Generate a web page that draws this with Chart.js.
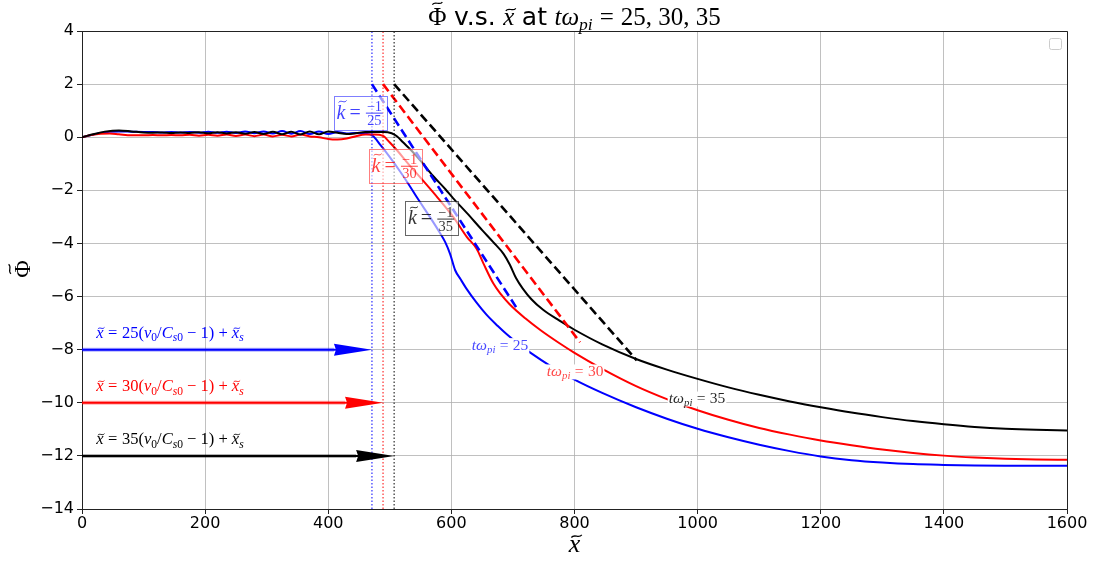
<!DOCTYPE html>
<html lang="en">
<head>
    <meta charset="UTF-8">
    <title>Phi vs x</title>
    <script src="https://cdn.jsdelivr.net/npm/chart.js"></script>
    <style>
        body { margin: 0; background: #fff; }
        #wrap { width: 1096px; height: 563px; }
    </style>
</head>
<body>
    <div id="wrap"><canvas id="phiChart" width="1096" height="563"></canvas></div>

    <script>
        // Potential profiles, [x, phi]
        var phi25 = [[0,0],[15,0.08],[30,0.16],[45,0.21],[60,0.22],[80,0.21],[100,0.2],[115,0.2],[130,0.18],[145,0.2],[160,0.18],[175,0.2],[190,0.17],[205,0.21],[220,0.17],[235,0.21],[250,0.16],[265,0.22],[280,0.15],[295,0.22],[310,0.14],[325,0.23],[340,0.13],[355,0.23],[370,0.12],[385,0.22],[400,0.12],[415,0.2],[430,0.14],[445,0.16],[460,0.13],[471,0.08],
            [485,-0.3],[500,-0.75],[517,-1.3],[530,-1.75],[545,-2.3],[565,-3.0],[580,-3.55],[590,-3.95],[598,-4.4],[606,-5.0],[615,-5.35],[625,-5.72],[640,-6.2],[657,-6.68],[675,-7.1],[690,-7.42],[710,-7.8],[730,-8.14],[760,-8.6],[800,-9.13],[845,-9.63],[900,-10.17],[950,-10.6],[1000,-10.98],[1050,-11.3],[1100,-11.58],[1150,-11.82],[1200,-12.02],[1250,-12.16],[1300,-12.25],[1350,-12.31],[1400,-12.34],[1450,-12.36],[1500,-12.37],[1550,-12.37],[1600,-12.37]];
        var phi30 = [[0,0],[15,0.08],[30,0.13],[45,0.14],[60,0.11],[80,0.07],[100,0.07],[115,0.08],[130,0.07],[145,0.08],[160,0.07],[175,0.09],[190,0.06],[205,0.09],[220,0.06],[235,0.1],[250,0.05],[265,0.1],[280,0.04],[295,0.1],[310,0.03],[325,0.09],[340,0.03],[355,0.1],[370,0.03],[385,0.0],[400,-0.07],[415,-0.09],[430,-0.05],[445,0.04],[460,0.1],[475,0.1],[489,0.05],
            [500,-0.2],[512,-0.5],[530,-1.0],[549,-1.5],[575,-2.2],[603,-3.0],[625,-3.75],[641,-4.2],[652,-4.75],[668,-5.5],[680,-5.9],[695,-6.3],[720,-6.82],[745,-7.27],[775,-7.75],[800,-8.12],[845,-8.72],[900,-9.37],[950,-9.86],[1000,-10.28],[1050,-10.64],[1100,-10.95],[1150,-11.2],[1200,-11.42],[1250,-11.6],[1300,-11.76],[1350,-11.89],[1400,-11.99],[1450,-12.06],[1500,-12.11],[1550,-12.14],[1600,-12.15]];
        var phi35 = [[0,0],[20,0.12],[40,0.22],[60,0.25],[80,0.22],[100,0.18],[115,0.17],[130,0.18],[145,0.16],[160,0.18],[175,0.16],[190,0.19],[205,0.15],[220,0.19],[235,0.14],[250,0.19],[265,0.13],[280,0.2],[295,0.12],[310,0.21],[325,0.11],[340,0.21],[355,0.1],[370,0.22],[385,0.11],[400,0.22],[415,0.17],[430,0.12],[445,0.15],[460,0.2],[475,0.2],[490,0.2],[503,0.15],
            [512,0.03],[521,-0.18],[535,-0.5],[549,-0.86],[570,-1.45],[590,-1.95],[603,-2.3],[625,-2.85],[650,-3.5],[668,-3.95],[685,-4.4],[695,-4.8],[705,-5.3],[716,-5.7],[730,-6.1],[749,-6.5],[775,-6.9],[800,-7.25],[845,-7.8],[900,-8.35],[950,-8.75],[1000,-9.1],[1050,-9.42],[1100,-9.7],[1150,-9.95],[1200,-10.17],[1250,-10.37],[1300,-10.54],[1350,-10.69],[1400,-10.81],[1450,-10.91],[1500,-10.98],[1550,-11.02],[1600,-11.04]];

        var times = [25, 30, 35];
        var colors = ['#0000ff', '#ff0000', '#000000'];
        var shockX = [471, 489, 507];          // x = t(v0/Cs0 - 1) + xs
        var slopeTopY = 2;
        var slopeEndX = [708, 809, 901];
        var slopeEndY = [-6.5, -7.72, -8.4];
        var arrowY = [-8, -10, -12];
        var kLabelPos = [[452, 0.93], [509, -1.07], [568, -3.06]];
        var tLabelPos = [[679, -7.83], [801, -8.82], [999, -9.84]];
        var xTicks = [0, 200, 400, 600, 800, 1000, 1200, 1400, 1600];
        var yTicks = [-14, -12, -10, -8, -6, -4, -2, 0, 2, 4];

        var SERIF = '"Liberation Serif", "DejaVu Serif", serif';

        // --- tiny math text helpers ---
        function fontFor(p, size) {
            var s = (p.f === 'sub' || p.f === 'subr') ? size * 0.7 : size;
            if (p.f === 'sans') return s + 'px "DejaVu Sans"';
            var it = (p.f === 'i' || p.f === 'sub') ? 'italic ' : '';
            return it + s + 'px ' + SERIF;
        }
        function partWidth(ctx, p, size) {
            if (p.sp !== undefined) return p.sp * size;
            if (p.num !== undefined) {
                ctx.font = (size * 0.72) + 'px ' + SERIF;
                return Math.max(ctx.measureText(p.num).width, ctx.measureText(p.den).width) + size * 0.2;
            }
            ctx.font = fontFor(p, size);
            return ctx.measureText(p.t).width;
        }
        function mathWidth(ctx, parts, size) {
            return parts.reduce(function (s, p) { return s + partWidth(ctx, p, size); }, 0);
        }
        function drawTilde(ctx, cx, ty, size) {
            var tw = size * 0.4, h = size * 0.05;
            ctx.lineWidth = Math.max(0.9, size * 0.05);
            ctx.beginPath();
            ctx.moveTo(cx - tw / 2, ty + h);
            ctx.bezierCurveTo(cx - tw / 5, ty - h * 2.2, cx + tw / 5, ty + h * 2.2, cx + tw / 2, ty - h);
            ctx.stroke();
        }
        function drawMath(ctx, parts, x, cy, size, color, align) {
            var w = mathWidth(ctx, parts, size);
            var cx = align === 'center' ? x - w / 2 : (align === 'right' ? x - w : x);
            var base = cy + size * 0.3;
            ctx.fillStyle = color;
            ctx.strokeStyle = color;
            ctx.textBaseline = 'alphabetic';
            parts.forEach(function (p) {
                var pw = partWidth(ctx, p, size);
                if (p.num !== undefined) {
                    var axis = base - size * 0.27;
                    ctx.font = (size * 0.72) + 'px ' + SERIF;
                    ctx.textAlign = 'center';
                    ctx.fillText(p.num, cx + pw / 2, axis - size * 0.1);
                    ctx.fillText(p.den, cx + pw / 2, axis + size * 0.58);
                    ctx.lineWidth = Math.max(0.8, size * 0.05);
                    ctx.beginPath();
                    ctx.moveTo(cx + size * 0.06, axis);
                    ctx.lineTo(cx + pw - size * 0.06, axis);
                    ctx.stroke();
                } else if (p.t !== undefined) {
                    ctx.font = fontFor(p, size);
                    ctx.textAlign = 'left';
                    var dy = (p.f === 'sub' || p.f === 'subr') ? size * 0.2 : 0;
                    ctx.fillText(p.t, cx, base + dy);
                    if (p.tilde) {
                        var shift = p.f === 'i' ? size * 0.08 : 0;
                        drawTilde(ctx, cx + pw / 2 + shift, base - size * (p.tall ? 0.85 : 0.6), size);
                    }
                }
                cx += pw;
            });
            ctx.textAlign = 'left';
            return w;
        }
        function eq(s) { s = s || 0.28; return [{ sp: s }, { t: '=', f: 'r' }, { sp: s }]; }

        var annotations = {
            id: 'annotations',
            afterDatasetsDraw: function (chart) {
                var ctx = chart.ctx, a = chart.chartArea;
                var sx = chart.scales.x, sy = chart.scales.y;
                ctx.save();

                // arrows from x=0 to the shock positions
                arrowY.forEach(function (ay, i) {
                    var py = sy.getPixelForValue(ay);
                    var x0 = sx.getPixelForValue(0), x1 = sx.getPixelForValue(shockX[i]);
                    var head = 38, hw = 6;
                    ctx.strokeStyle = colors[i];
                    ctx.globalAlpha = 0.3;
                    ctx.lineWidth = 4;
                    ctx.beginPath(); ctx.moveTo(x0, py); ctx.lineTo(x1 - head, py); ctx.stroke();
                    ctx.globalAlpha = 1;
                    ctx.lineWidth = 2;
                    ctx.beginPath(); ctx.moveTo(x0, py); ctx.lineTo(x1 - head + 2, py); ctx.stroke();
                    ctx.fillStyle = colors[i];
                    ctx.beginPath();
                    ctx.moveTo(x1, py);
                    ctx.lineTo(x1 - head, py - hw);
                    ctx.lineTo(x1 - head + 2, py);
                    ctx.lineTo(x1 - head, py + hw);
                    ctx.closePath();
                    ctx.fill();

                    var lab = [{ t: 'x', f: 'i', tilde: true }].concat(eq(), [
                        { t: String(times[i]) + '(', f: 'r' }, { t: 'v', f: 'i' }, { t: '0', f: 'subr' },
                        { t: '/', f: 'r' }, { t: 'C', f: 'i' }, { t: 's', f: 'sub' }, { t: '0', f: 'subr' },
                        { sp: 0.25 }, { t: '\u2212', f: 'r' }, { sp: 0.25 }, { t: '1)', f: 'r' },
                        { sp: 0.25 }, { t: '+', f: 'r' }, { sp: 0.25 }, { t: 'x', f: 'i', tilde: true }, { t: 's', f: 'sub' }]);
                    drawMath(ctx, lab, sx.getPixelForValue(23), sy.getPixelForValue(ay + 0.62), 16.5, colors[i], 'left');
                });

                // k = -1/t boxes
                var boxText = ['rgba(0,0,255,0.75)', 'rgba(255,0,0,0.75)', 'rgba(0,0,0,0.8)'];
                var boxEdge = ['rgba(0,0,255,0.5)', 'rgba(255,0,0,0.5)', 'rgba(0,0,0,0.6)'];
                kLabelPos.forEach(function (pos, i) {
                    var parts = [{ t: 'k', f: 'i', tilde: true, tall: true }].concat(eq(0.2), [{ num: '\u22121', den: String(times[i]) }]);
                    var size = 20;
                    var w = mathWidth(ctx, parts, size);
                    var cx = sx.getPixelForValue(pos[0]), cy = sy.getPixelForValue(pos[1]);
                    var bw = w + 6, bh = 34;
                    ctx.fillStyle = 'rgba(255,255,255,0.6)';
                    ctx.fillRect(cx - bw / 2, cy - bh / 2, bw, bh);
                    ctx.strokeStyle = boxEdge[i];
                    ctx.lineWidth = 1;
                    ctx.strokeRect(Math.round(cx - bw / 2) + 0.5, Math.round(cy - bh / 2) + 0.5, Math.round(bw), bh);
                    drawMath(ctx, parts, cx, cy, size, boxText[i], 'center');
                });

                // inline curve labels
                var tCol = ['rgba(40,40,255,0.85)', 'rgba(255,40,40,0.85)', 'rgba(0,0,0,0.85)'];
                tLabelPos.forEach(function (pos, i) {
                    var parts = [{ t: 't', f: 'i' }, { t: '\u03c9', f: 'i' }, { t: 'pi', f: 'sub' }].concat(eq(), [{ t: String(times[i]), f: 'r' }]);
                    var size = 15.5;
                    var w = mathWidth(ctx, parts, size);
                    var cx = sx.getPixelForValue(pos[0]), cy = sy.getPixelForValue(pos[1]);
                    ctx.fillStyle = '#fff';
                    ctx.fillRect(cx - w / 2 - 1, cy - 7, w + 2, 15);
                    drawMath(ctx, parts, cx, cy, size, tCol[i], 'center');
                });

                // top and right spines
                ctx.strokeStyle = '#222';
                ctx.lineWidth = 1;
                ctx.beginPath();
                ctx.moveTo(Math.round(a.left) + 0.5, Math.round(a.top) + 0.5);
                ctx.lineTo(Math.round(a.right) + 0.5, Math.round(a.top) + 0.5);
                ctx.lineTo(Math.round(a.right) + 0.5, Math.round(a.bottom) + 0.5);
                ctx.stroke();

                // empty legend frame
                ctx.strokeStyle = '#cccccc';
                ctx.fillStyle = '#ffffff';
                ctx.beginPath();
                ctx.roundRect(1049.5, 38.5, 12, 11, 2);
                ctx.fill(); ctx.stroke();

                // title and axis labels
                var title = [{ t: '\u03a6', f: 'r', tilde: true, tall: true }, { sp: 0.3 }, { t: 'v.s.', f: 'sans' }, { sp: 0.3 },
                    { t: 'x', f: 'i', tilde: true }, { sp: 0.3 }, { t: 'at', f: 'sans' }, { sp: 0.3 },
                    { t: 't', f: 'i' }, { t: '\u03c9', f: 'i' }, { t: 'pi', f: 'sub' }].concat(eq(), [{ t: times.join(', '), f: 'r' }]);
                drawMath(ctx, title, (a.left + a.right) / 2, 17, 25, '#000', 'center');
                drawMath(ctx, [{ t: 'x', f: 'i', tilde: true }], (a.left + a.right) / 2, 544, 26, '#000', 'center');
                ctx.translate(23, 269);
                ctx.rotate(-Math.PI / 2);
                drawMath(ctx, [{ t: '\u03a6', f: 'r', tilde: true, tall: true }], 0, 0, 24, '#000', 'center');
                ctx.restore();
            }
        };

        // datasets: solid profiles, dashed slope lines, dotted shock positions
        var datasets = [];
        [phi25, phi30, phi35].forEach(function (s, i) {
            datasets.push({
                data: s.map(function (p) { return { x: p[0], y: p[1] }; }),
                borderColor: colors[i], borderWidth: 2, showLine: true, pointRadius: 0,
                cubicInterpolationMode: 'monotone', fill: false
            });
        });
        shockX.forEach(function (x0, i) {
            datasets.push({
                data: [{ x: x0, y: slopeTopY }, { x: slopeEndX[i], y: slopeEndY[i] }],
                borderColor: colors[i], borderWidth: 2.6, borderDash: [9, 4.5], showLine: true, pointRadius: 0
            });
        });
        shockX.forEach(function (x0, i) {
            datasets.push({
                data: [{ x: x0, y: -14 }, { x: x0, y: 4 }],
                borderColor: colors[i], borderWidth: 1, borderDash: [1.5, 2], showLine: true, pointRadius: 0
            });
        });
        datasets.forEach(function (d, i) { d.order = datasets.length - i; });

        function minusFmt(v) { return v < 0 ? '\u2212' + Math.abs(v) : String(v); }

        var tickFont = { family: 'DejaVu Sans', size: 16 };
        var phiChart = new Chart(document.getElementById('phiChart'), {
            type: 'scatter',
            data: { datasets: datasets },
            options: {
                responsive: false,
                animation: false,
                layout: { padding: { top: 31, right: 29, left: 0, bottom: 0 } },
                plugins: { legend: { display: false }, tooltip: { enabled: false }, title: { display: false } },
                scales: {
                    x: {
                        type: 'linear', min: 0, max: 1600,
                        afterBuildTicks: function (s) { s.ticks = xTicks.map(function (v) { return { value: v }; }); },
                        afterFit: function (s) { s.height = 54; },
                        ticks: { font: tickFont, color: '#000', padding: 0, maxRotation: 0, callback: minusFmt },
                        grid: { color: '#b0b0b0', lineWidth: 0.8, tickLength: 5, tickColor: '#222', tickWidth: 1 },
                        border: { color: '#222', width: 1 }
                    },
                    y: {
                        min: -14, max: 4,
                        afterBuildTicks: function (s) { s.ticks = yTicks.map(function (v) { return { value: v }; }); },
                        afterFit: function (s) { s.width = 82; },
                        ticks: { font: tickFont, color: '#000', padding: 3, callback: minusFmt },
                        grid: { color: '#b0b0b0', lineWidth: 0.8, tickLength: 5, tickColor: '#222', tickWidth: 1 },
                        border: { color: '#222', width: 1 }
                    }
                }
            },
            plugins: [annotations]
        });
    </script>
</body>
</html>
